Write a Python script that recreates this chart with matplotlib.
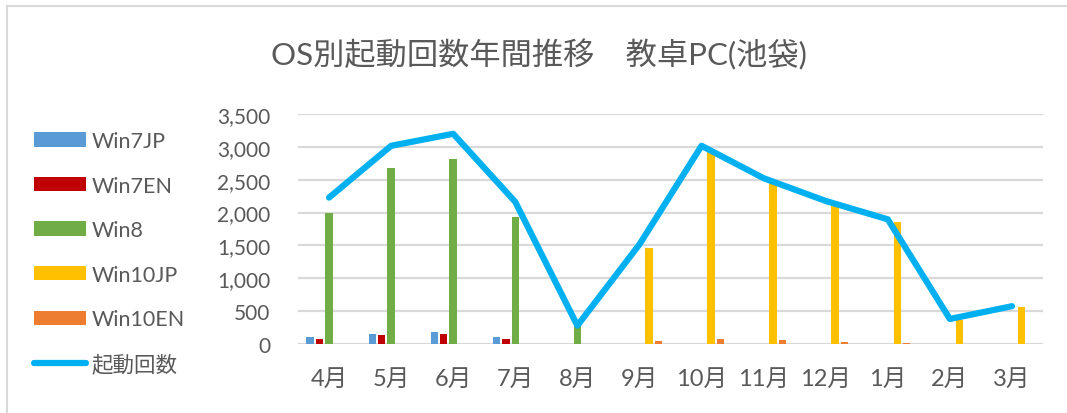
import matplotlib
matplotlib.use("Agg")
import matplotlib.pyplot as plt
import numpy as np
from matplotlib.lines import Line2D
from matplotlib.ticker import FuncFormatter

months = ["4月", "5月", "6月", "7月", "8月", "9月", "10月", "11月", "12月", "1月", "2月", "3月"]
win7jp = [112, 153, 188, 112, 0, 0, 0, 0, 0, 0, 0, 0]
win7en = [81, 137, 153, 81, 0, 0, 0, 0, 0, 0, 0, 0]
win8 = [2000, 2681, 2813, 1938, 270, 0, 0, 0, 0, 0, 0, 0]
win10jp = [0, 0, 0, 0, 0, 1455, 2940, 2447, 2111, 1857, 370, 560]
win10en = [0, 0, 0, 0, 0, 51, 71, 66, 36, 20, 0, 0]
boot_total = [2228, 3016, 3199, 2162, 280, 1516, 3016, 2523, 2177, 1897, 381, 575]

series_names = ["Win7JP", "Win7EN", "Win8", "Win10JP", "Win10EN"]
line_name = "起動回数"
title = "OS別起動回数年間推移\u3000教卓PC(池袋)"

colors = ["#5B9BD5", "#C00000", "#70AD47", "#FFC000", "#ED7D31"]
line_color = "#00B0F0"
text_color = "#595959"
grid_color = "#D9D9D9"

plt.rcParams['font.family'] = ['Lato', 'Noto Sans CJK JP', 'DejaVu Sans']

W, H = 1067, 414
fig = plt.figure(figsize=(W / 100, H / 100), dpi=100)
ax = fig.add_axes([298 / W, 1 - 345 / H, (1043 - 298) / W, (345 - 115) / H])

x = np.arange(len(months))
step = 0.152
width = 0.12
handles = []
for i, (vals, name, c) in enumerate(zip([win7jp, win7en, win8, win10jp, win10en], series_names, colors)):
    b = ax.bar(x + (i - 2) * step, vals, width=width, color=c, label=name, zorder=2)
    handles.append(b)
ln, = ax.plot(x, boot_total, color=line_color, lw=4.5, solid_capstyle='round',
              solid_joinstyle='round', label=line_name, zorder=3)
handles.append(ln)

ax.set_xlim(-0.5, len(months) - 0.5)
ax.set_ylim(0, 3500)
ax.set_yticks(np.arange(0, 3501, 500))
ax.yaxis.set_major_formatter(FuncFormatter(lambda v, p: f"{int(v):,}"))
ax.set_xticks(x)
ax.set_xticklabels(months)
ax.tick_params(axis='y', length=0, pad=20, labelsize=15, labelcolor=text_color)
ax.tick_params(axis='x', length=0, pad=17, labelsize=17, labelcolor=text_color)
for s in ax.spines.values():
    s.set_visible(False)
ax.yaxis.grid(True, color=grid_color, lw=1.6, zorder=0)
ax.set_axisbelow(True)

fig.text(539 / W, 1 - 55 / H, title, ha='center', va='center', fontsize=22.5, color=text_color)

leg = fig.legend(handles=handles, labels=series_names + [line_name],
                 loc='upper left', bbox_to_anchor=(25 / W, 1 - 123.5 / H),
                 frameon=False, fontsize=15.5, labelcolor=text_color,
                 handlelength=2.45, handleheight=0.65, handletextpad=0.25,
                 labelspacing=1.14, borderaxespad=0)

fig.add_artist(Line2D([7 / W, 7 / W], [0, 1 - 7 / H], color=grid_color, lw=1.5))
fig.add_artist(Line2D([7 / W, 1], [1 - 7 / H, 1 - 7 / H], color=grid_color, lw=1.5))

fig.savefig("out.png", dpi=100)
